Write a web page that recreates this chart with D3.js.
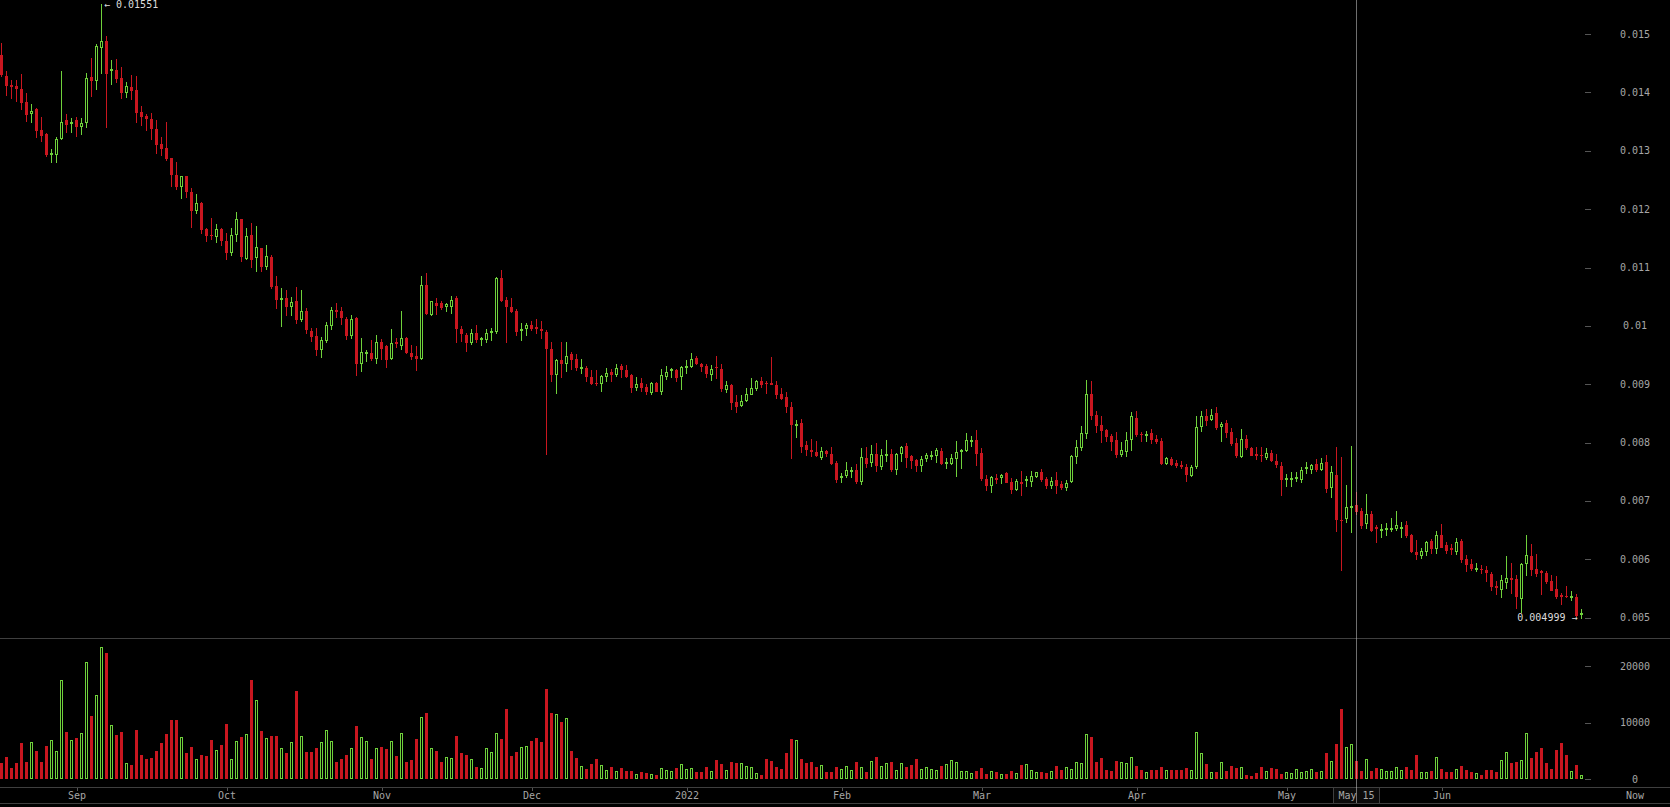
<!DOCTYPE html>
<html>
<head>
<meta charset="utf-8">
<script src="https://cdn.jsdelivr.net/npm/d3@7"></script>
<style>
  html, body { margin: 0; padding: 0; background: #000; overflow: hidden; }
  svg { display: block; }
  text { font-family: "DejaVu Sans Mono", "Liberation Mono", monospace; font-size: 10px; }
</style>
</head>
<body>
<svg id="chart" width="1670" height="807"></svg>
<script>
// ---- data (daily candles, 2021-08-17 .. 2022-06-29) ----
const firstDay = "2021-08-17";
const lastDay = "2022-06-29";

const open = [
0.01465,0.01429,0.01413,0.01411,0.01406,0.01384,0.01364,0.01371,0.01336,0.01328,0.01296,0.01295,0.01322,0.01352,0.01347,0.01352,0.01342,0.01349,0.01427,0.01422,
0.01478,0.01488,0.01439,0.01439,0.01424,0.01401,0.01410,0.01404,0.01366,0.01360,0.01355,0.01338,0.01312,0.01305,0.01287,0.01259,0.01240,0.01256,0.01230,0.01198,
0.01210,0.01166,0.01156,0.01154,0.01166,0.01145,0.01126,0.01158,0.01183,0.01117,0.01155,0.01118,0.01133,0.01103,0.01118,0.01069,0.01047,0.01048,0.01034,0.01043,
0.01012,0.01026,0.00992,0.00983,0.00960,0.00976,0.01002,0.01028,0.01025,0.01012,0.00985,0.01014,0.00937,0.00955,0.00954,0.00945,0.00973,0.00966,0.00945,0.00973,
0.00968,0.00980,0.00954,0.00948,0.00945,0.01070,0.01020,0.01039,0.01040,0.01034,0.01034,0.01047,0.00995,0.00984,0.00973,0.00988,0.00979,0.00977,0.00990,0.00991,
0.01082,0.01045,0.01033,0.01026,0.00993,0.00997,0.01001,0.00998,0.00994,0.00990,0.00961,0.00917,0.00941,0.00937,0.00951,0.00943,0.00929,0.00928,0.00913,0.00903,
0.00902,0.00914,0.00921,0.00918,0.00931,0.00925,0.00916,0.00895,0.00902,0.00896,0.00886,0.00903,0.00888,0.00914,0.00925,0.00925,0.00914,0.00931,0.00931,0.00945,
0.00935,0.00931,0.00918,0.00930,0.00927,0.00892,0.00899,0.00869,0.00865,0.00873,0.00884,0.00893,0.00905,0.00903,0.00902,0.00899,0.00884,0.00878,0.00861,0.00831,
0.00833,0.00796,0.00787,0.00784,0.00775,0.00786,0.00781,0.00765,0.00741,0.00744,0.00752,0.00753,0.00734,0.00773,0.00766,0.00781,0.00760,0.00779,0.00781,0.00754,
0.00783,0.00794,0.00777,0.00770,0.00761,0.00773,0.00778,0.00778,0.00786,0.00765,0.00765,0.00773,0.00786,0.00787,0.00804,0.00805,0.00783,0.00737,0.00728,0.00739,
0.00741,0.00748,0.00733,0.00720,0.00732,0.00737,0.00734,0.00742,0.00750,0.00737,0.00727,0.00736,0.00729,0.00724,0.00734,0.00777,0.00793,0.00816,0.00884,0.00847,
0.00831,0.00822,0.00812,0.00804,0.00780,0.00785,0.00806,0.00843,0.00815,0.00814,0.00816,0.00807,0.00802,0.00765,0.00772,0.00765,0.00761,0.00758,0.00744,0.00760,
0.00828,0.00845,0.00840,0.00850,0.00828,0.00834,0.00819,0.00799,0.00777,0.00807,0.00791,0.00780,0.00779,0.00776,0.00782,0.00769,0.00760,0.00738,0.00739,0.00740,
0.00737,0.00757,0.00754,0.00763,0.00755,0.00767,0.00724,0.00745,0.00668,0.00671,0.00690,0.00693,0.00683,0.00662,0.00678,0.00655,0.00651,0.00652,0.00653,0.00654,
0.00655,0.00659,0.00642,0.00613,0.00607,0.00615,0.00631,0.00619,0.00642,0.00624,0.00620,0.00614,0.00631,0.00600,0.00592,0.00585,0.00584,0.00582,0.00575,0.00554,
0.00550,0.00561,0.00568,0.00567,0.00533,0.00593,0.00606,0.00584,0.00580,0.00576,0.00563,0.00550,0.00539,0.00538,0.00537,0.00536,0.00507
];
const high = [
0.01484,0.01436,0.01422,0.01422,0.01431,0.01399,0.01380,0.01373,0.01358,0.01331,0.01303,0.01323,0.01436,0.01363,0.01357,0.01358,0.01357,0.01433,0.01459,0.01483,
0.01551,0.01496,0.01456,0.01458,0.01443,0.01418,0.01430,0.01428,0.01376,0.01363,0.01365,0.01352,0.01323,0.01350,0.01288,0.01281,0.01257,0.01257,0.01237,0.01226,
0.01212,0.01168,0.01185,0.01175,0.01167,0.01160,0.01167,0.01196,0.01184,0.01167,0.01177,0.01172,0.01134,0.01138,0.01121,0.01086,0.01065,0.01062,0.01049,0.01067,
0.01062,0.01030,0.00996,0.00997,0.00981,0.01007,0.01032,0.01040,0.01033,0.01015,0.01018,0.01015,0.00980,0.00959,0.00975,0.00984,0.00978,0.00967,0.00994,0.00979,
0.01025,0.00981,0.00967,0.00965,0.01086,0.01090,0.01043,0.01047,0.01042,0.01040,0.01052,0.01051,0.01000,0.00988,0.00995,0.01001,0.00981,0.00994,0.00997,0.01084,
0.01096,0.01049,0.01047,0.01029,0.01005,0.01005,0.01009,0.01012,0.01009,0.00993,0.00972,0.00944,0.00972,0.00972,0.00956,0.00951,0.00943,0.00931,0.00925,0.00925,
0.00916,0.00928,0.00926,0.00935,0.00935,0.00933,0.00918,0.00912,0.00911,0.00901,0.00904,0.00904,0.00927,0.00932,0.00928,0.00926,0.00931,0.00941,0.00954,0.00948,
0.00936,0.00934,0.00933,0.00949,0.00935,0.00906,0.00901,0.00881,0.00882,0.00894,0.00911,0.00907,0.00913,0.00906,0.00947,0.00905,0.00893,0.00887,0.00869,0.00839,
0.00841,0.00803,0.00807,0.00803,0.00792,0.00787,0.00792,0.00769,0.00748,0.00766,0.00759,0.00763,0.00790,0.00793,0.00796,0.00800,0.00789,0.00805,0.00789,0.00783,
0.00795,0.00800,0.00779,0.00772,0.00777,0.00783,0.00786,0.00791,0.00791,0.00774,0.00781,0.00803,0.00789,0.00817,0.00812,0.00821,0.00791,0.00744,0.00742,0.00746,
0.00746,0.00750,0.00740,0.00737,0.00751,0.00743,0.00751,0.00750,0.00754,0.00741,0.00741,0.00750,0.00734,0.00736,0.00779,0.00805,0.00829,0.00908,0.00905,0.00854,
0.00846,0.00824,0.00814,0.00818,0.00801,0.00819,0.00853,0.00854,0.00819,0.00820,0.00823,0.00813,0.00808,0.00775,0.00776,0.00770,0.00769,0.00763,0.00762,0.00845,
0.00854,0.00858,0.00858,0.00861,0.00836,0.00838,0.00825,0.00808,0.00824,0.00813,0.00792,0.00792,0.00792,0.00791,0.00787,0.00781,0.00767,0.00747,0.00749,0.00750,
0.00759,0.00767,0.00763,0.00772,0.00774,0.00779,0.00760,0.00792,0.00776,0.00727,0.00795,0.00716,0.00688,0.00712,0.00683,0.00658,0.00661,0.00663,0.00670,0.00682,
0.00664,0.00666,0.00644,0.00633,0.00619,0.00632,0.00635,0.00649,0.00660,0.00630,0.00626,0.00636,0.00635,0.00607,0.00601,0.00594,0.00591,0.00589,0.00579,0.00563,
0.00574,0.00606,0.00594,0.00574,0.00593,0.00641,0.00626,0.00610,0.00581,0.00580,0.00573,0.00571,0.00543,0.00554,0.00545,0.00540,0.00515
];
const low = [
0.01429,0.01395,0.01391,0.01385,0.01372,0.01351,0.01350,0.01324,0.01316,0.01291,0.01281,0.01280,0.01321,0.01333,0.01333,0.01325,0.01328,0.01340,0.01394,0.01406,
0.01434,0.01341,0.01415,0.01418,0.01390,0.01393,0.01388,0.01350,0.01345,0.01336,0.01321,0.01297,0.01292,0.01285,0.01239,0.01235,0.01220,0.01221,0.01170,0.01194,
0.01160,0.01145,0.01149,0.01144,0.01138,0.01114,0.01122,0.01146,0.01111,0.01115,0.01101,0.01094,0.01094,0.01097,0.01065,0.01030,0.01000,0.01019,0.01018,0.01005,
0.01008,0.00988,0.00974,0.00950,0.00947,0.00973,0.00995,0.01016,0.01003,0.00978,0.00980,0.00916,0.00922,0.00939,0.00941,0.00937,0.00944,0.00930,0.00943,0.00964,
0.00961,0.00954,0.00944,0.00924,0.00943,0.01021,0.01018,0.01021,0.01029,0.01025,0.01022,0.00973,0.00974,0.00957,0.00969,0.00973,0.00967,0.00972,0.00975,0.00987,
0.01043,0.00972,0.01023,0.00985,0.00976,0.00985,0.00993,0.00988,0.00979,0.00780,0.00906,0.00885,0.00912,0.00923,0.00927,0.00925,0.00919,0.00905,0.00900,0.00898,
0.00889,0.00906,0.00905,0.00915,0.00913,0.00912,0.00887,0.00891,0.00889,0.00884,0.00883,0.00888,0.00884,0.00909,0.00913,0.00906,0.00892,0.00920,0.00930,0.00935,
0.00923,0.00913,0.00908,0.00911,0.00889,0.00887,0.00858,0.00853,0.00862,0.00871,0.00883,0.00891,0.00896,0.00885,0.00900,0.00876,0.00875,0.00852,0.00774,0.00810,
0.00784,0.00778,0.00777,0.00777,0.00772,0.00777,0.00763,0.00732,0.00733,0.00741,0.00741,0.00731,0.00729,0.00758,0.00760,0.00752,0.00755,0.00768,0.00752,0.00747,
0.00768,0.00759,0.00757,0.00752,0.00751,0.00768,0.00772,0.00766,0.00764,0.00757,0.00764,0.00742,0.00757,0.00785,0.00794,0.00761,0.00736,0.00719,0.00716,0.00730,
0.00730,0.00732,0.00714,0.00719,0.00711,0.00726,0.00726,0.00741,0.00735,0.00723,0.00723,0.00714,0.00720,0.00718,0.00732,0.00765,0.00788,0.00808,0.00841,0.00818,
0.00801,0.00802,0.00788,0.00775,0.00777,0.00777,0.00788,0.00811,0.00802,0.00802,0.00800,0.00800,0.00764,0.00763,0.00761,0.00758,0.00757,0.00734,0.00743,0.00756,
0.00820,0.00830,0.00838,0.00824,0.00803,0.00809,0.00796,0.00775,0.00776,0.00789,0.00778,0.00772,0.00768,0.00772,0.00768,0.00759,0.00711,0.00726,0.00726,0.00735,
0.00733,0.00748,0.00748,0.00752,0.00753,0.00715,0.00706,0.00648,0.00582,0.00664,0.00646,0.00677,0.00654,0.00654,0.00648,0.00630,0.00639,0.00642,0.00649,0.00650,
0.00639,0.00639,0.00613,0.00601,0.00602,0.00608,0.00611,0.00611,0.00621,0.00611,0.00609,0.00609,0.00596,0.00580,0.00582,0.00580,0.00576,0.00563,0.00548,0.00541,
0.00536,0.00551,0.00543,0.00517,0.00510,0.00574,0.00574,0.00571,0.00541,0.00560,0.00547,0.00533,0.00523,0.00536,0.00531,0.00503,0.004999
];
const close = [
0.01431,0.01413,0.01411,0.01408,0.01383,0.01363,0.01369,0.01335,0.01327,0.01295,0.01297,0.01321,0.01350,0.01346,0.01350,0.01343,0.01347,0.01425,0.01421,0.01480,
0.01488,0.01434,0.01440,0.01425,0.01401,0.01411,0.01405,0.01366,0.01359,0.01357,0.01339,0.01312,0.01305,0.01288,0.01260,0.01240,0.01257,0.01231,0.01198,0.01210,
0.01166,0.01156,0.01155,0.01166,0.01148,0.01127,0.01155,0.01183,0.01119,0.01154,0.01114,0.01136,0.01103,0.01119,0.01069,0.01046,0.01048,0.01034,0.01041,0.01012,
0.01025,0.00995,0.00983,0.00961,0.00975,0.01001,0.01028,0.01025,0.01015,0.00985,0.01012,0.00937,0.00955,0.00956,0.00945,0.00973,0.00962,0.00944,0.00970,0.00970,
0.00979,0.00955,0.00949,0.00945,0.01070,0.01022,0.01042,0.01036,0.01033,0.01037,0.01044,0.00996,0.00987,0.00973,0.00988,0.00977,0.00980,0.00988,0.00992,0.01082,
0.01044,0.01034,0.01025,0.00992,0.00994,0.01002,0.00997,0.00996,0.00993,0.00962,0.00917,0.00941,0.00937,0.00949,0.00943,0.00929,0.00930,0.00915,0.00902,0.00902,
0.00914,0.00920,0.00918,0.00928,0.00926,0.00915,0.00895,0.00900,0.00895,0.00889,0.00902,0.00889,0.00916,0.00921,0.00926,0.00913,0.00930,0.00932,0.00944,0.00937,
0.00931,0.00919,0.00927,0.00929,0.00893,0.00899,0.00869,0.00863,0.00872,0.00884,0.00893,0.00906,0.00900,0.00902,0.00901,0.00884,0.00877,0.00863,0.00832,0.00832,
0.00795,0.00789,0.00786,0.00778,0.00786,0.00782,0.00765,0.00737,0.00742,0.00753,0.00753,0.00734,0.00775,0.00765,0.00780,0.00761,0.00778,0.00780,0.00755,0.00781,
0.00792,0.00775,0.00771,0.00761,0.00772,0.00778,0.00779,0.00787,0.00765,0.00766,0.00773,0.00784,0.00787,0.00805,0.00805,0.00783,0.00739,0.00728,0.00741,0.00738,
0.00745,0.00733,0.00720,0.00734,0.00731,0.00738,0.00743,0.00749,0.00738,0.00727,0.00735,0.00727,0.00724,0.00730,0.00777,0.00792,0.00816,0.00884,0.00847,0.00830,
0.00822,0.00811,0.00803,0.00780,0.00787,0.00805,0.00845,0.00814,0.00814,0.00815,0.00807,0.00802,0.00765,0.00773,0.00763,0.00762,0.00760,0.00747,0.00758,0.00827,
0.00845,0.00839,0.00848,0.00826,0.00832,0.00819,0.00799,0.00778,0.00807,0.00793,0.00779,0.00779,0.00778,0.00782,0.00770,0.00764,0.00737,0.00739,0.00740,0.00741,
0.00753,0.00758,0.00762,0.00754,0.00765,0.00722,0.00750,0.00669,0.00667,0.00689,0.00691,0.00683,0.00659,0.00678,0.00650,0.00654,0.00652,0.00653,0.00654,0.00658,
0.00656,0.00642,0.00614,0.00609,0.00615,0.00629,0.00620,0.00642,0.00622,0.00616,0.00617,0.00630,0.00600,0.00592,0.00585,0.00586,0.00583,0.00579,0.00554,0.00553,
0.00564,0.00568,0.00567,0.00537,0.00592,0.00607,0.00584,0.00576,0.00579,0.00563,0.00548,0.00538,0.00538,0.00537,0.00538,0.00505,0.00508
];
const volume = [
2900,3850,1930,2750,6330,2930,6600,4950,2930,5870,6880,4950,17600,8340,6880,7240,8160,20720,11190,14850,
23380,22280,9630,7790,8340,2750,2480,8710,4220,3480,3670,4950,6330,7980,10450,10450,7430,4590,5690,3480,
4220,4030,6880,5140,5960,9720,3480,6690,7430,7980,17600,14030,8530,7240,7610,7610,5500,4590,6510,15590,
7610,4770,4770,5500,6510,8710,6690,2930,3480,4220,5500,9350,7430,6690,3480,5500,5690,5320,6690,4030,
8160,2930,3300,7060,11000,11740,5500,4950,2930,3850,3670,7610,4590,4220,3480,2200,1930,5500,4770,8160,
7060,12380,4030,4770,5690,5870,6690,7240,6510,15960,11740,11550,10090,10820,4950,3670,2380,1740,2660,3480,
2480,1560,2110,1380,1930,1380,1380,830,1190,1010,830,640,1930,1560,1380,1930,2660,1740,1930,1190,
1190,2110,1380,3300,2660,1560,2930,2750,2750,2290,2110,1010,640,3480,3120,2110,1740,4590,7060,6880,
3480,2750,2930,2110,2480,1190,1190,2110,1740,2290,1560,2930,2110,1190,3120,3850,2290,2750,2930,1560,
2750,2110,2480,3480,1740,2110,1740,1560,2290,2660,3300,2930,1380,1380,1010,1380,1930,830,1380,1190,
920,830,1380,1010,2480,2660,1560,1190,1190,1010,1380,2290,1560,2110,1740,2930,2750,7980,7430,2930,
3670,1560,1380,3120,2930,2750,3850,2290,1560,1190,1560,1560,2110,1560,1560,1560,1560,1930,1560,8340,
4590,2570,1190,1190,2930,1380,2290,1930,2110,640,460,1010,2110,1380,1930,1740,830,1190,1010,1740,
1190,1380,1740,1190,1380,4590,3120,6140,12380,5690,6140,3120,1380,3480,1380,1930,1740,1380,1380,2110,
1560,2110,1560,4220,1190,1190,1380,3850,1740,1190,1190,1740,2290,1560,1190,1010,640,1560,1560,1190,
3300,4770,2750,2930,3300,8160,3670,4770,5500,2750,1740,5140,6330,4220,1380,2480,640
];

// axis ticks / labels
const priceTicks = [0.005,0.006,0.007,0.008,0.009,0.010,0.011,0.012,0.013,0.014,0.015];
const volumeTicks = [0, 10000, 20000];
const monthTicks = ["2021-09-01","2021-10-01","2021-11-01","2021-12-01","2022-01-01","2022-02-01","2022-03-01","2022-04-01","2022-05-01","2022-06-01"];
const monthLabels = ["Sep","Oct","Nov","Dec","2022","Feb","Mar","Apr","May","Jun"];
const cursorDay = "2022-05-15";
const cursorLabel = "May 15";
const nowLabel = "Now";

// ---- rendering ----
const parse = d3.utcParse("%Y-%m-%d");
const start = parse(firstDay), end = parse(lastDay);
const dates = d3.utcDay.range(start, d3.utcDay.offset(end, 1));
const candles = dates.map((d, i) => ({date: d, o: open[i], h: high[i], l: low[i], c: close[i], v: volume[i]}));

const W = 1670, H = 807;
const RED = "#c9161f", GREEN = "#6fd13b";
const AXIS_TEXT = "#a6a6a6";
const svg = d3.select("#chart");
svg.append("rect").attr("width", W).attr("height", H).attr("fill", "#000");

const x = d3.scaleUtc().domain([start, end]).range([1.5, 1581.5]);
const y = d3.scaleLinear().domain([0.005, 0.015]).range([617.7, 34.1]);
const yv = d3.scaleLinear().domain([0, 20000]).range([779, 666]);

const cx = d => Math.round(x(d.date) - 0.5) + 0.5;

// panels lines
const lines = svg.append("g").attr("shape-rendering", "crispEdges").attr("stroke", "#3f3f3f");
[638.5, 787.5, 803.5].forEach(yy => lines.append("line").attr("x1", 0).attr("x2", W).attr("y1", yy).attr("y2", yy));

// candles
const cg = svg.append("g").attr("shape-rendering", "crispEdges");
const cs = cg.selectAll("g").data(candles).join("g");
cs.append("line")
  .attr("x1", cx).attr("x2", cx)
  .attr("y1", d => Math.round(y(d.h)))
  .attr("y2", d => Math.round(y(d.l)) + 1)
  .attr("stroke", d => d.c >= d.o ? GREEN : RED).attr("stroke-width", 1);
cs.each(function(d) {
  const g = d3.select(this);
  const up = d.c >= d.o;
  const top = Math.round(y(Math.max(d.o, d.c)));
  const bot = Math.round(y(Math.min(d.o, d.c)));
  if (up) {
    g.append("rect").attr("x", cx(d) - 1).attr("width", 2)
      .attr("y", top + 0.5).attr("height", Math.max(1, bot - top))
      .attr("fill", "#000").attr("stroke", GREEN).attr("stroke-width", 1);
  } else {
    g.append("rect").attr("x", cx(d) - 1.5).attr("width", 3)
      .attr("y", top).attr("height", Math.max(1, bot - top + 1))
      .attr("fill", RED);
  }
});

// volume bars
const vg = svg.append("g").attr("shape-rendering", "crispEdges");
vg.selectAll("rect").data(candles).join("rect")
  .each(function(d) {
    const r = d3.select(this);
    const top = Math.round(yv(d.v));
    if (d.c >= d.o) {
      r.attr("x", cx(d) - 1).attr("width", 2).attr("y", top + 0.5).attr("height", Math.max(1, 779 - top - 1))
       .attr("fill", "none").attr("stroke", GREEN).attr("stroke-width", 1);
    } else {
      r.attr("x", cx(d) - 1.5).attr("width", 3).attr("y", top).attr("height", 779 - top)
       .attr("fill", RED);
    }
  });

// right axes
const fmt = v => String(+v.toFixed(3));
const ra = svg.append("g");
ra.selectAll("line.pt").data(priceTicks).join("line").attr("class", "pt")
  .attr("shape-rendering", "crispEdges")
  .attr("x1", 1585).attr("x2", 1591)
  .attr("y1", d => Math.round(y(d)) + 0.5).attr("y2", d => Math.round(y(d)) + 0.5)
  .attr("stroke", "#555");
ra.selectAll("text.pt").data(priceTicks).join("text").attr("class", "pt")
  .attr("x", 1635).attr("y", d => y(d)).attr("dy", "0.35em")
  .attr("text-anchor", "middle").attr("fill", AXIS_TEXT).text(fmt);
ra.selectAll("line.vt").data(volumeTicks).join("line").attr("class", "vt")
  .attr("shape-rendering", "crispEdges")
  .attr("x1", 1585).attr("x2", 1591)
  .attr("y1", d => Math.round(yv(d)) + 0.5).attr("y2", d => Math.round(yv(d)) + 0.5)
  .attr("stroke", "#555");
ra.selectAll("text.vt").data(volumeTicks).join("text").attr("class", "vt")
  .attr("x", 1635).attr("y", d => yv(d)).attr("dy", "0.35em")
  .attr("text-anchor", "middle").attr("fill", AXIS_TEXT).text(d => String(d));

// bottom time axis
const tickDates = monthTicks.map(parse);
const xa = svg.append("g").attr("transform", "translate(0,787.5)")
  .call(d3.axisBottom(x).tickValues(tickDates).tickFormat((d, i) => monthLabels[i]).tickSize(3).tickPadding(1));
xa.select(".domain").remove();
xa.selectAll(".tick line").attr("stroke", "#555").attr("shape-rendering", "crispEdges");
xa.selectAll(".tick text").attr("fill", AXIS_TEXT)
  .style("font-family", '"DejaVu Sans Mono", monospace').style("font-size", "10px");
svg.append("text").attr("x", 1635).attr("y", 799).attr("text-anchor", "middle")
  .attr("fill", AXIS_TEXT).text(nowLabel);

// cursor
const cd = parse(cursorDay);
const cxp = Math.round(x(cd) - 0.5) + 0.5;
svg.append("rect").attr("shape-rendering", "crispEdges")
  .attr("x", cxp - 23).attr("y", 787.5).attr("width", 46).attr("height", 16)
  .attr("fill", "#0b0b0b").attr("stroke", "#3f3f3f");
svg.append("text").attr("x", cxp).attr("y", 799).attr("text-anchor", "middle")
  .attr("fill", AXIS_TEXT).text(cursorLabel);
svg.append("line").attr("shape-rendering", "crispEdges")
  .attr("x1", cxp).attr("x2", cxp).attr("y1", 0).attr("y2", 803)
  .attr("stroke", "rgba(200,200,200,0.55)");

// extremes labels
const maxC = candles.reduce((a, b) => b.h > a.h ? b : a);
const minC = candles.reduce((a, b) => b.l < a.l ? b : a);
svg.append("text").attr("x", cx(maxC) + 2.5).attr("y", y(maxC.h)).attr("dy", "0.35em")
  .attr("fill", "#dcdcdc").text("\u2190 " + maxC.h);
svg.append("text").attr("x", cx(minC) - 4).attr("y", y(minC.l)).attr("dy", "0.35em")
  .attr("text-anchor", "end").attr("fill", "#dcdcdc").text(minC.l + " \u2192");
</script>
</body>
</html>
